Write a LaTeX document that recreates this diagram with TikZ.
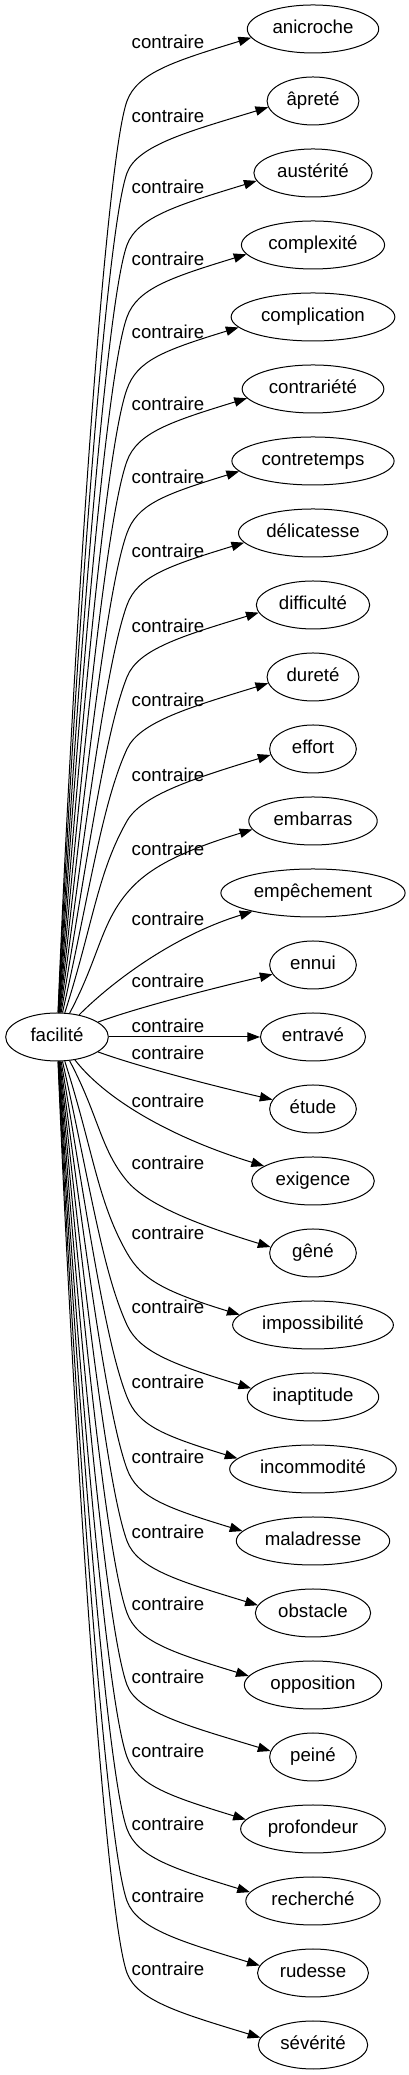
\documentclass[tikz,border=0pt]{standalone}
\usepackage{fontspec}
\setmainfont{Liberation Sans}
\usetikzlibrary{arrows.meta, shapes.geometric}

\tikzset{
  word/.style={draw, ellipse, line width=0.75pt, inner xsep=4.5pt, inner ysep=2pt,
    minimum width=65pt, minimum height=36pt, text height=10pt, text depth=3pt,
    font=\fontsize{14}{16}\selectfont},
  rel/.style={inner sep=0pt, font=\fontsize{14}{16}\selectfont},
  link/.style={-{Triangle[length=9.5pt,width=7pt]}, line width=0.75pt},
}

\begin{document}
\begin{tikzpicture}[x=0.75pt, y=0.75pt]
  \useasboundingbox (0,0) rectangle (409,2075);

  % source word
  \node[word, minimum width=77pt] (facilite) at (57,2075-1037) {facilité};

  % contraires, top to bottom: name/word/node y/label y
  \foreach \nm/\wtext/\ny/\ly [count=\i] in {
      anicroche/anicroche/29/42, apre/âpreté/101/116, austerite/austérité/173/187,
      complexite/complexité/245/259, complication/complication/317/332,
      contrariete/contrariété/389/404, contretemps/contretemps/461/477,
      delicatesse/délicatesse/533/551, difficulte/difficulté/605/626,
      durete/dureté/677/700, effort/effort/749/775, embarras/embarras/821/849,
      empechement/empêchement/893/919, ennui/ennui/965/981,
      entrave/entravé/1037/1026, etude/étude/1109/1053,
      exigence/exigence/1181/1101, gene/gêné/1253/1163,
      impossibilite/impossibilité/1325/1233, inaptitude/inaptitude/1397/1307,
      incommodite/incommodité/1469/1382, maladresse/maladresse/1541/1457,
      obstacle/obstacle/1613/1532, opposition/opposition/1685/1604,
      peine/peiné/1757/1677, profondeur/profondeur/1829/1751,
      recherche/recherché/1901/1824, rudesse/rudesse/1973/1896,
      severite/sévérité/2045/1969}
  {
    \node[word] (\nm) at (313,2075-\ny) {\wtext};
    \node[rel] (lab\i) at (168,2075-\ly) {contraire};
    \pgfmathtruncatemacro\m{abs(\i-15)}
    \ifnum\m=0
      \draw[link] (facilite) -- (\nm);
    \fi
    % the two nearest ones
    \ifnum\m=1
      \ifnum\i<15
        \draw[link] (facilite) to[out=20, in=193, out distance=37.5pt, in distance=30pt] (\nm);
      \else
        \draw[link] (facilite) to[out=-20, in=167, out distance=37.5pt, in distance=30pt] (\nm);
      \fi
    \fi
    \ifnum\m=2
      \ifnum\i<15
        \draw[link] (facilite) to[out=45, in=197, out distance=37.5pt, in distance=60pt] (\nm);
      \else
        \draw[link] (facilite) to[out=-52, in=163, out distance=41pt, in distance=67pt] (\nm);
      \fi
    \fi
    % the others climb beside the labels, then bend to the word
    \ifnum\m>2
      \pgfmathsetmacro\rise{72*\m-96}
      \pgfmathsetmacro\la{atan(\rise/69)}
      \pgfmathsetmacro\oa{min(\la+2,89.5)}
      \pgfmathsetmacro\th{min(70,\la-10)}
      \pgfmathsetmacro\ch{\rise/sin(\la)}
      \pgfmathsetmacro\oda{0.75*0.45*\ch}
      \pgfmathsetmacro\ida{0.75*min(60,0.3*\ch)}
      \ifnum\i<15
        \pgfmathsetmacro\ia{180+\th}
        \draw[link] (facilite) to[out=\oa, in=\ia, out distance=\oda pt, in distance=\ida pt]
          (127,2075-\ny-72) to[out=\th, in=197, out distance=22.5pt, in distance=60pt] (\nm.188);
      \else
        \pgfmathsetmacro\ia{180-\th}
        \draw[link] (facilite) to[out=-\oa, in=\ia, out distance=\oda pt, in distance=\ida pt]
          (127,2075-\ny+72) to[out=-\th, in=163, out distance=22.5pt, in distance=60pt] (\nm.172);
      \fi
    \fi
  }
\end{tikzpicture}
\end{document}
